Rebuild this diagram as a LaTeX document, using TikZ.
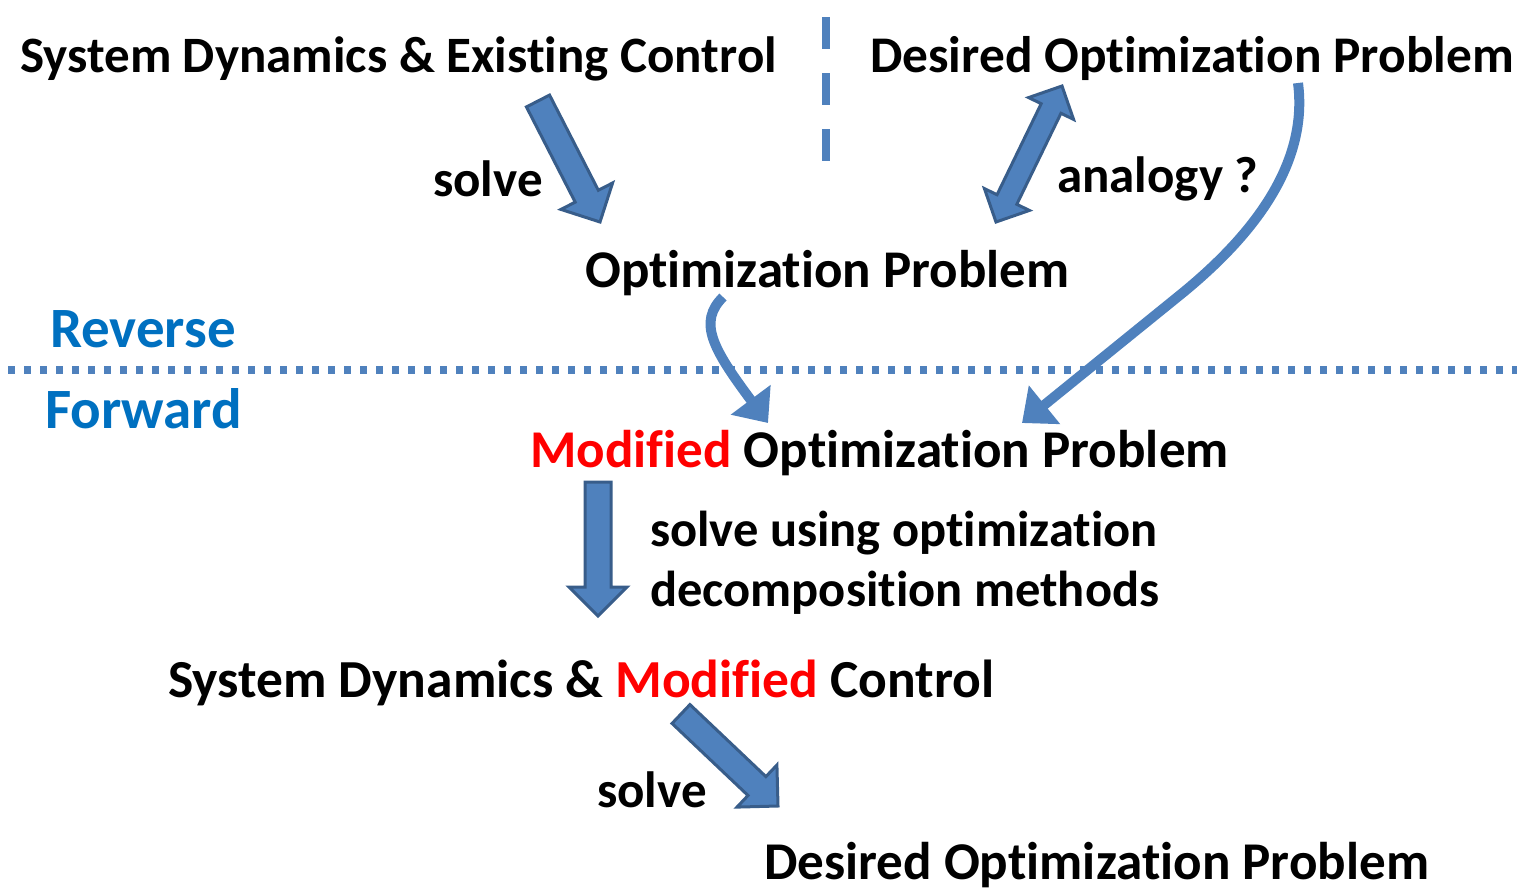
\documentclass[tikz,border=0pt]{standalone}
\usepackage{fontspec}
\setmainfont{Carlito}[RawFeature=-liga,RawFeature=-clig,RawFeature=-calt,RawFeature=-dlig]
\usetikzlibrary{calc,arrows.meta}
\definecolor{arrfill}{HTML}{4F81BD}
\definecolor{arrline}{HTML}{385D8A}
\definecolor{lblue}{HTML}{4F81BD}
\definecolor{tblue}{HTML}{0070C0}
\definecolor{tred}{HTML}{FF0000}
\tikzset{
  txt/.style={anchor=base west,inner sep=0pt,font=\bfseries\fontsize{#1}{60}\selectfont},
  txt/.default=51,
  bluetxt/.style={anchor=base west,inner sep=0pt,text=tblue,font=\bfseries\fontsize{57}{64}\selectfont},
  blockarr/.style={fill=arrfill,draw=arrline,line width=3pt,line join=miter},
  curvearr/.style={draw=lblue,line width=10pt,-{Triangle[width=48pt,length=29pt]}},
}
\newcommand{\blockarrow}[2]{%
  \path ($(#2)!29pt!(#1)$) coordinate (bH);
  \draw[blockarr] ($(#1)!13pt!90:(#2)$) -- ($(bH)!13pt!90:(#2)$) -- ($(bH)!29pt!90:(#2)$)
    -- (#2) -- ($(bH)!29pt!-90:(#2)$) -- ($(bH)!13pt!-90:(#2)$) -- ($(#1)!13pt!-90:(#2)$) -- cycle;}
\newcommand{\doublearrow}[2]{%
  \path ($(#2)!25pt!(#1)$) coordinate (dH);
  \path ($(#1)!25pt!(#2)$) coordinate (dT);
  \draw[blockarr] (#1) -- ($(dT)!25pt!-90:(#1)$) -- ($(dT)!11pt!-90:(#1)$)
    -- ($(dH)!11pt!90:(#2)$) -- ($(dH)!25pt!90:(#2)$) -- (#2) -- ($(dH)!25pt!-90:(#2)$)
    -- ($(dH)!11pt!-90:(#2)$) -- ($(dT)!11pt!90:(#1)$) -- ($(dT)!25pt!90:(#1)$) -- cycle;}
\begin{document}
\begin{tikzpicture}[x=1pt,y=-1pt]
\useasboundingbox (0,0) rectangle (1521,892);
% separators
\draw[lblue,line width=8pt,dash pattern=on 32pt off 24pt] (826,17) -- (826,161);
\draw[lblue,line width=8pt,dash pattern=on 7pt off 9pt] (8,370) -- (1517,370);
% texts
\node[txt] (sdec) at (20,72) {System Dynamics \& Existing Control};
\node[txt=51.4] (dop1) at (870,72) {Desired Optimization Problem};
\node[txt] (solve1) at (433,196) {solve};
\node[txt] (analogy) at (1057,192) {analogy ?};
\node[txt=53] (op) at (585,287) {Optimization Problem};
\node[bluetxt] (rev) at (50,347) {Reverse};
\node[bluetxt] (fwd) at (45,428) {Forward};
\node[txt=53.1] (mop) at (530,467) {\textcolor{tred}{Modified} Optimization Problem};
\node[txt=50.5] (sum1) at (650,546) {solve using optimization};
\node[txt=50.5] (sum2) at (650,606) {decomposition methods};
\node[txt=53.5] (sdmc) at (168,697) {System Dynamics \& \textcolor{tred}{Modified} Control};
\node[txt] (solve2) at (597,807) {solve};
\node[txt=53.1] (dop2) at (764,879) {Desired Optimization Problem};
% block arrows
\coordinate (a1s) at (538,101);
\coordinate (a1e) at (600,222);
\blockarrow{a1s}{a1e}
\coordinate (a2s) at (598,482);
\coordinate (a2e) at (598,616);
\blockarrow{a2s}{a2e}
\coordinate (a3s) at (681,714);
\coordinate (a3e) at (778,806);
\blockarrow{a3s}{a3e}
\coordinate (d1) at (996,222);
\coordinate (d2) at (1062,86);
\doublearrow{d1}{d2}
% curved arrows
\coordinate (c1s) at (723,297);
\coordinate (c1e) at (768,423);
\draw[curvearr] (c1s) .. controls (698,322) and (712,348) .. (c1e);
\coordinate (c2s) at (1298,83);
\coordinate (c2e) at (1022,423);
\draw[curvearr] (c2s) .. controls (1308,160) and (1259,231) .. (1180,295) -- (c2e);
\end{tikzpicture}
\end{document}
